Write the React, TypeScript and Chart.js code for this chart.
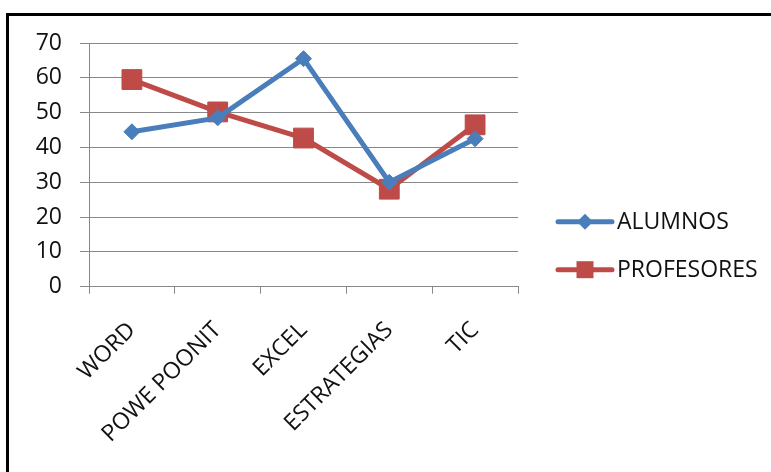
import React, { useEffect, useRef } from "react";
import { Chart, registerables } from "chart.js";

Chart.register(...registerables);

const categories = ["WORD", "POWE POONIT", "EXCEL", "ESTRATEGIAS", "TIC"];
const alumnos = [44.5, 48.5, 65.5, 30, 42.5];
const profesores = [59.5, 50.2, 42.7, 28, 46.5];
const yTicks = [0, 10, 20, 30, 40, 50, 60, 70];

const BLUE = "#4A7EBB";
const RED = "#BE4B48";
const GRID = "#888888";
const FONT = "'Open Sans', sans-serif";

const legendPlugin = {
  id: "customLegend",
  afterDraw(chart: any) {
    const { ctx, chartArea } = chart;
    chart.data.datasets.forEach((ds: any, i: number) => {
      const y = chartArea.bottom - 65 + i * 48;
      const x0 = chartArea.right + 40;
      const x1 = chartArea.right + 94;
      const cx = chartArea.right + 67;
      ctx.save();
      ctx.strokeStyle = ds.borderColor;
      ctx.lineWidth = 5;
      ctx.lineCap = "round";
      ctx.beginPath();
      ctx.moveTo(x0, y);
      ctx.lineTo(x1, y);
      ctx.stroke();
      ctx.fillStyle = ds.pointBackgroundColor;
      ctx.beginPath();
      if (ds.pointStyle === "rectRot") {
        const r = 8;
        ctx.moveTo(cx, y - r);
        ctx.lineTo(cx + r, y);
        ctx.lineTo(cx, y + r);
        ctx.lineTo(cx - r, y);
        ctx.closePath();
      } else {
        const h = 8.5;
        ctx.rect(cx - h, y - h, 2 * h, 2 * h);
      }
      ctx.fill();
      ctx.fillStyle = "#111";
      ctx.font = `23px ${FONT}`;
      ctx.textBaseline = "middle";
      ctx.textAlign = "left";
      ctx.fillText(ds.label, chartArea.right + 99, y + 1);
      ctx.restore();
    });
  },
};

export default function App() {
  const ref = useRef<HTMLCanvasElement | null>(null);

  useEffect(() => {
    if (!ref.current) return;
    const chart = new Chart(ref.current, {
      type: "line",
      data: {
        labels: categories,
        datasets: [
          {
            label: "ALUMNOS",
            data: alumnos,
            borderColor: BLUE,
            backgroundColor: BLUE,
            pointBackgroundColor: BLUE,
            pointBorderColor: BLUE,
            borderWidth: 5,
            pointStyle: "rectRot",
            pointRadius: 8,
            pointBorderWidth: 1,
            tension: 0,
          },
          {
            label: "PROFESORES",
            data: profesores,
            borderColor: RED,
            backgroundColor: RED,
            pointBackgroundColor: RED,
            pointBorderColor: RED,
            borderWidth: 5,
            pointStyle: "rect",
            pointRadius: 14,
            pointBorderWidth: 1,
            tension: 0,
          },
        ],
      },
      options: {
        animation: false,
        responsive: false,
        maintainAspectRatio: false,
        layout: { padding: { left: 0, top: 27, right: 253, bottom: 0 } },
        plugins: {
          legend: { display: false },
          tooltip: { enabled: false },
        },
        scales: {
          x: {
            offset: true,
            grid: {
              offset: true,
              drawOnChartArea: false,
              drawTicks: true,
              tickLength: 7,
              color: GRID,
            },
            border: { color: GRID, width: 1 },
            ticks: {
              minRotation: 45,
              maxRotation: 45,
              padding: 23,
              color: "#111",
              font: { family: FONT, size: 23 },
            },
            afterFit: (scale: any) => {
              scale.height = 185.3;
            },
          },
          y: {
            min: 0,
            max: 70,
            afterBuildTicks: (scale: any) => {
              scale.ticks = yTicks.map((v) => ({ value: v }));
            },
            grid: {
              color: GRID,
              tickLength: 9,
              drawTicks: true,
            },
            border: { color: GRID, width: 1 },
            ticks: {
              padding: 18,
              color: "#111",
              font: { family: FONT, size: 23 },
            },
            afterFit: (scale: any) => {
              scale.width = 80;
              scale.paddingTop = 0;
              scale.paddingBottom = 0;
            },
          },
        },
      },
      plugins: [legendPlugin],
    });
    return () => chart.destroy();
  }, []);

  return (
    <div
      style={{
        position: "fixed",
        left: 0,
        top: 0,
        width: 771,
        height: 472,
        overflow: "hidden",
        background: "#fff",
      }}
    >
      <div
        style={{
          position: "absolute",
          left: 6,
          top: 13,
          width: 800,
          height: 500,
          border: "3px solid #000",
          background: "#fff",
        }}
      />
      <canvas
        ref={ref}
        width={762}
        height={456}
        style={{ position: "absolute", left: 9, top: 16, width: 762, height: 456 }}
      />
    </div>
  );
}
